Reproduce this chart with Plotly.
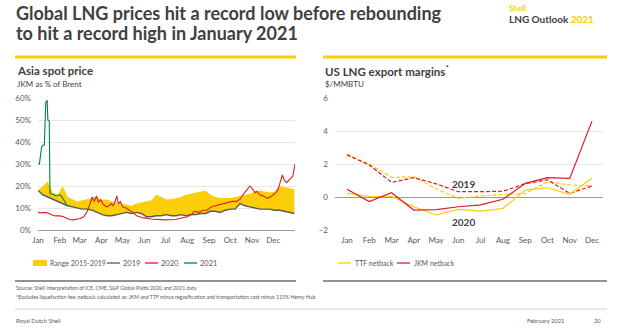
import plotly.graph_objects as go

W, H = 621, 329
FONT = "Lato"
DARK = "#404040"
GREY = "#595959"
YELLOW = "#FBCE07"
RED = "#DD1D21"
GREEN = "#008443"

# ---------------- Left chart data (JKM as % of Brent, day of year) -------------
range_days = [0, 7, 14, 21, 28, 35, 42, 49, 56, 63, 70, 77, 84, 91, 98, 105, 112, 119, 126,
              133, 140, 147, 154, 161, 168, 175, 182, 189, 196, 203, 210, 217, 224, 231, 238,
              245, 252, 259, 266, 273, 280, 287, 294, 301, 308, 315, 322, 329, 336, 343, 350,
              357, 364]
range_high = [18, 20, 22, 17, 16, 20, 15, 14, 13, 13.5, 14, 14.5, 15, 13.5, 14, 13, 12.5, 12,
              11.5, 11, 12, 12.5, 13, 13.5, 16, 15, 14, 14, 14.5, 15, 16, 16.5, 17, 17.5, 18,
              16, 15, 14.5, 14.5, 14.5, 15, 15.5, 16, 16.5, 17.5, 18, 17.5, 17, 17.5, 20,
              19.5, 19, 18.5]
range_low = [18, 16, 15, 14, 13, 12, 11, 10.5, 10, 9.5, 9.5, 9, 8, 7, 6.5, 6.5, 7, 7.5, 8,
             7.5, 8, 7.5, 6, 6, 6.5, 6.5, 7, 6.5, 6.5, 7, 6.5, 7, 7, 7.5, 7.5, 8.5, 8.5, 8,
             9, 9.5, 9.5, 12, 11, 10.5, 10, 9.5, 9.5, 9.5, 9, 9, 8.5, 8, 7.5]
y2019 = range_low

days2020 = [0, 5, 10, 15, 20, 25, 30, 35, 40, 45, 50, 55, 60, 65, 70, 74, 77, 80, 83, 86, 89,
            92, 95, 98, 101, 104, 107, 110, 112, 114, 117, 120, 125, 130, 135, 140, 150, 160,
            170, 180, 195, 205, 212, 218, 222, 228, 234, 240, 246, 252, 258, 264, 270, 276,
            282, 287, 291, 296, 301, 305, 308, 311, 315, 320, 325, 330, 334, 338, 341, 344,
            347, 350, 353, 356, 359, 362, 365]
y2020 = [8, 7.8, 8, 7.6, 6.8, 6.4, 6.5, 6.2, 5.5, 4.8, 4.6, 4.8, 5.2, 6, 8.5, 12, 15, 13,
         15.5, 12.5, 14, 12, 11, 10.5, 11, 12, 11, 13.5, 15.5, 12, 13, 10.5, 10, 9, 8, 6.5,
         5.5, 5, 4.8, 4.6, 4.8, 5.5, 6, 7, 8.5, 8, 9, 9, 10.5, 11, 11.5, 12, 12.5, 13, 13,
         14, 16, 18, 20, 18.5, 17, 17.5, 16, 15.5, 14.5, 15, 16, 17, 18.5, 22, 25, 22.5,
         21.5, 22.5, 23.5, 24.5, 30]

days2021 = [0, 2, 5, 7, 9, 11, 13, 14, 16, 17, 22, 26, 30, 33, 37, 41]
y2021 = [30, 30, 37.5, 38.5, 38.5, 58, 59, 50, 49.5, 16.5, 16, 15.5, 16, 15.5, 13.5, 11]

month_starts = [0, 31, 59, 90, 120, 151, 181, 212, 243, 273, 304, 334]
month_labels = ["Jan", "Feb", "Mar", "Apr", "May", "Jun", "Jul", "Aug", "Sep", "Oct", "Nov", "Dec"]
left_ticks = [0, 10, 20, 30, 40, 50, 60]

# ---------------- Right chart data (US LNG export margins, $/MMBTU) ------------
months = list(range(1, 13))
ttf_2019 = [2.5, 2.0, 1.19, 1.23, 0.5, -0.08, 0.06, 0.16, 0.2, 0.93, 0.73, 0.67]
jkm_2019 = [2.57, 1.94, 0.89, 1.17, 0.8, 0.32, 0.32, 0.35, 0.8, 1.05, 0.22, 0.67]
ttf_2020 = [0.22, 0.04, 0.03, -0.59, -1.09, -0.75, -0.85, -0.69, 0.42, 0.56, 0.16, 1.13]
jkm_2020 = [0.47, -0.28, 0.26, -0.79, -0.76, -0.59, -0.48, -0.14, 0.83, 1.17, 1.13, 4.6]
right_ticks = [-2, 0, 2, 4, 6]


def px(x):
    return x / W


def py(y):
    return 1 - y / H


fig = go.Figure()

# Left: range band
fig.add_trace(go.Scatter(x=range_days, y=range_low, mode="lines", line=dict(width=0),
                         hoverinfo="skip", showlegend=False, xaxis="x", yaxis="y"))
fig.add_trace(go.Scatter(x=range_days, y=range_high, mode="lines", line=dict(width=0),
                         fill="tonexty", fillcolor=YELLOW, name="Range 2015-2019",
                         showlegend=False, xaxis="x", yaxis="y"))
fig.add_trace(go.Scatter(x=range_days, y=y2019, mode="lines", name="2019",
                         line=dict(color=GREY, width=1.4), showlegend=False, xaxis="x", yaxis="y"))
fig.add_trace(go.Scatter(x=days2020, y=y2020, mode="lines", name="2020",
                         line=dict(color=RED, width=1.1), showlegend=False, xaxis="x", yaxis="y"))
fig.add_trace(go.Scatter(x=days2021, y=y2021, mode="lines", name="2021",
                         line=dict(color=GREEN, width=1.1), showlegend=False, xaxis="x", yaxis="y"))

# Right: margins
fig.add_trace(go.Scatter(x=months, y=ttf_2019, mode="lines", name="TTF netback 2019",
                         line=dict(color=YELLOW, width=1.2, dash="4px,2px"),
                         showlegend=False, xaxis="x2", yaxis="y2"))
fig.add_trace(go.Scatter(x=months, y=jkm_2019, mode="lines", name="JKM netback 2019",
                         line=dict(color=RED, width=1.2, dash="4px,2px"),
                         showlegend=False, xaxis="x2", yaxis="y2"))
fig.add_trace(go.Scatter(x=months, y=ttf_2020, mode="lines", name="TTF netback",
                         line=dict(color=YELLOW, width=1.2),
                         showlegend=False, xaxis="x2", yaxis="y2"))
fig.add_trace(go.Scatter(x=months, y=jkm_2020, mode="lines", name="JKM netback",
                         line=dict(color=RED, width=1.2),
                         showlegend=False, xaxis="x2", yaxis="y2"))

ydom = [py(230), py(98)]
tickfont = dict(family=FONT, size=8, color=GREY)

fig.update_layout(
    width=W, height=H, margin=dict(l=0, r=0, t=0, b=0, autoexpand=False),
    paper_bgcolor="white", plot_bgcolor="white",
    font=dict(family=FONT, color=DARK),
    xaxis=dict(domain=[px(38), px(295)], range=[0, 365], tickvals=month_starts,
               ticktext=month_labels, showgrid=False, zeroline=False, showline=False,
               tickfont=tickfont, ticks="", ticklabelstandoff=4, automargin=False),
    yaxis=dict(domain=ydom, range=[0, 60], tickvals=left_ticks,
               ticktext=[f"{v}%" for v in left_ticks], showgrid=True, gridcolor="#e8e8e8",
               gridwidth=1, zeroline=True, zerolinecolor="#9a9a9a", zerolinewidth=1.2,
               showline=False, tickfont=tickfont, ticks="", ticklabelstandoff=6,
               anchor="x", automargin=False),
    xaxis2=dict(domain=[px(335), px(603)], range=[0.461, 12.494], tickvals=months,
                ticktext=month_labels, showgrid=False, zeroline=False, showline=False,
                tickfont=tickfont, ticks="", ticklabelstandoff=4, anchor="y2",
                automargin=False),
    yaxis2=dict(domain=ydom, range=[-2, 6], tickvals=right_ticks, showgrid=True,
                gridcolor="#e8e8e8", gridwidth=1, zeroline=True, zerolinecolor="#9a9a9a",
                zerolinewidth=1.2, showline=False, tickfont=tickfont, ticks="",
                ticklabelstandoff=6, anchor="x2", automargin=False),
)

shapes = []
annotations = []


def text(x, y, s, size, color=DARK, bold=False, xanchor="left", yanchor="middle"):
    annotations.append(dict(
        x=px(x), y=py(y), xref="paper", yref="paper", text=(f"<b>{s}</b>" if bold else s),
        showarrow=False, xanchor=xanchor, yanchor=yanchor,
        font=dict(family=FONT, size=size, color=color)))


# Header
text(14, 13, "Global LNG prices hit a record low before rebounding", 18, bold=True)
text(14, 33, "to hit a record high in January 2021", 18, bold=True)
text(507, 8, "Shell", 8, color=YELLOW, bold=True)
text(507, 19.5, f"LNG Outlook <span style='color:{YELLOW}'>2021</span>", 10, bold=True)

# Yellow top rules and grey bottom rules
shapes.append(dict(type="line", xref="paper", yref="paper", x0=px(15), x1=px(296),
                   y0=py(57), y1=py(57), line=dict(color=YELLOW, width=3)))
shapes.append(dict(type="line", xref="paper", yref="paper", x0=px(323), x1=px(607),
                   y0=py(57), y1=py(57), line=dict(color=YELLOW, width=3)))
shapes.append(dict(type="line", xref="paper", yref="paper", x0=px(15), x1=px(296),
                   y0=py(281), y1=py(281), line=dict(color="#6e6e6e", width=1.5)))
shapes.append(dict(type="line", xref="paper", yref="paper", x0=px(323), x1=px(607),
                   y0=py(281), y1=py(281), line=dict(color="#6e6e6e", width=1.5)))
shapes.append(dict(type="line", xref="paper", yref="paper", x0=px(15), x1=px(607),
                   y0=py(309), y1=py(309), line=dict(color="#d0d0d0", width=1)))

# Panel titles
text(15, 71, "Asia spot price", 11.5, bold=True)
text(15, 83.5, "JKM as % of Brent", 8)
text(323, 71, "US LNG export margins<sup>*</sup>", 11.5, bold=True)
text(323, 83.5, "$/MMBTU", 8)

# Left legend
shapes.append(dict(type="rect", xref="paper", yref="paper", x0=px(33), x1=px(47),
                   y0=py(266), y1=py(260), fillcolor=YELLOW, line=dict(width=0)))
text(48, 263, "Range 2015-2019", 7, color=GREY)
for x0, col, lab in [(107, GREY, "2019"), (145, RED, "2020"), (184, GREEN, "2021")]:
    shapes.append(dict(type="line", xref="paper", yref="paper", x0=px(x0), x1=px(x0 + 13),
                       y0=py(263), y1=py(263), line=dict(color=col, width=1.3)))
    text(x0 + 14, 263, lab, 7.5, color=GREY)

# Right legend
for x0, col, lab in [(338, YELLOW, "TTF netback"), (397, RED, "JKM netback")]:
    shapes.append(dict(type="line", xref="paper", yref="paper", x0=px(x0), x1=px(x0 + 13),
                       y0=py(263), y1=py(263), line=dict(color=col, width=1.3)))
    text(x0 + 15, 263, lab, 7, color=GREY)

# Year labels on right chart
annotations.append(dict(x=6.21, y=0.79, xref="x2", yref="y2", text="<b>2019</b>",
                        showarrow=False, font=dict(family=FONT, size=10, color=DARK)))
annotations.append(dict(x=6.21, y=-1.52, xref="x2", yref="y2", text="<b>2020</b>",
                        showarrow=False, font=dict(family=FONT, size=10, color=DARK)))

# Footer
text(14, 288, "Source: Shell interpretation of ICE, CME, S&amp;P Global Platts 2020 and 2021 data",
     5.2, color=GREY)
text(14, 297, "*Excludes liquefaction fee; netback calculated as: JKM and TTF minus regasification "
     "and transportation cost minus 115% Henry Hub", 5.2, color=GREY)
text(14, 320, "Royal Dutch Shell", 5.8, color=GREY)
text(545, 320, "February 2021", 5.8, color=GREY, xanchor="center")
text(603, 320, "20", 5.8, color=GREY, xanchor="right")

fig.update_layout(shapes=shapes, annotations=annotations)
fig.write_html("out.html")
